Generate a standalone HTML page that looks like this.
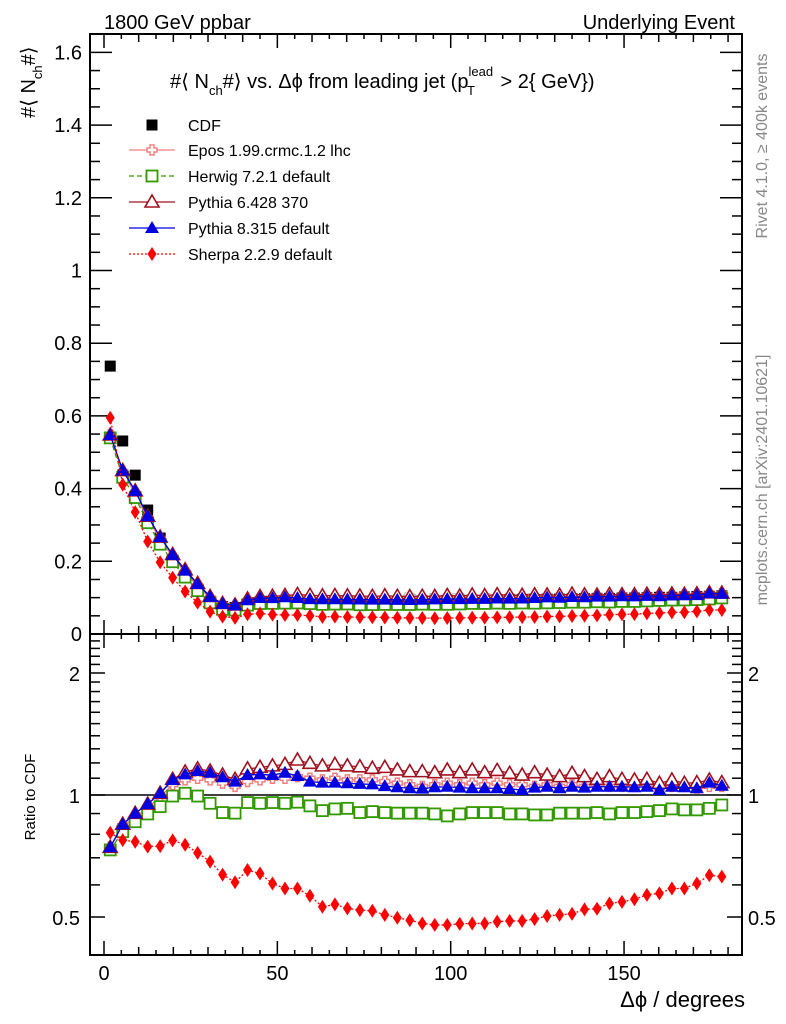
<!DOCTYPE html>
<html><head><meta charset="utf-8"><style>
html,body{margin:0;padding:0;background:#fff}
svg{display:block;font-family:"Liberation Sans",sans-serif}
</style></head><body>
<svg id="chart" width="786" height="1024" viewBox="0 0 786 1024" xmlns="http://www.w3.org/2000/svg">
<text x="104" y="29" font-size="20">1800 GeV ppbar</text>
<text x="735" y="29" font-size="20" text-anchor="end">Underlying Event</text>
<text x="170" y="88" font-size="20">#⟨ N<tspan font-size="13" dy="7">ch</tspan><tspan dy="-7">#⟩ vs. Δϕ from leading jet (p</tspan><tspan font-size="13" dy="-12">lead</tspan><tspan font-size="13" dx="-26" dy="19">T</tspan><tspan dx="20" dy="-7"> &gt; 2{ GeV})</tspan></text>
<text transform="translate(35,118) rotate(-90)" font-size="20">#⟨ N<tspan font-size="13" dy="7">ch</tspan><tspan dy="-7">#⟩</tspan></text>
<text transform="translate(35,797) rotate(-90)" font-size="15" text-anchor="middle">Ratio to CDF</text>
<text transform="translate(767,146) rotate(-90)" font-size="16" fill="#888" text-anchor="middle">Rivet 4.1.0, ≥ 400k events</text>
<text transform="translate(767,480) rotate(-90)" font-size="16" fill="#888" text-anchor="middle">mcplots.cern.ch [arXiv:2401.10621]</text>
<text x="745" y="1007" font-size="22" text-anchor="end">Δϕ / degrees</text>
<text x="470" y="603" font-size="15" fill="#bbb" text-anchor="middle">(CDF 2001 I564673)</text>
<g id="main"></g>
<g id="ratio"></g>
<g id="legend"></g>
</svg>
<script>
const binCenters = [1.8,5.4,9,12.6,16.2,19.8,23.4,27,30.6,34.2,37.8,41.4,45,48.6,52.2,55.8,59.4,63,66.6,70.2,73.8,77.4,81,84.6,88.2,91.8,95.4,99,102.6,106.2,109.8,113.4,117,120.6,124.2,127.8,131.4,135,138.6,142.2,145.8,149.4,153,156.6,160.2,163.8,167.4,171,174.6,178.2];
const cdfValues = [0.737,0.531,0.437,0.341,0.264,0.200,0.155,0.120,0.090,0.075,0.073,0.083,0.088,0.088,0.089,0.089,0.089,0.089,0.089,0.089,0.089,0.089,0.090,0.090,0.090,0.091,0.091,0.092,0.092,0.093,0.093,0.094,0.094,0.095,0.095,0.096,0.096,0.097,0.097,0.098,0.098,0.099,0.099,0.100,0.101,0.101,0.102,0.103,0.104,0.105];
const eposRatio = [0.743,0.84,0.88,0.93,0.99,1.06,1.09,1.10,1.09,1.07,1.05,1.08,1.09,1.10,1.10,1.11,1.10,1.09,1.10,1.09,1.09,1.09,1.08,1.07,1.06,1.05,1.06,1.07,1.06,1.07,1.06,1.07,1.06,1.06,1.05,1.06,1.05,1.06,1.05,1.06,1.05,1.05,1.05,1.06,1.04,1.05,1.05,1.04,1.05,1.05];
const herwigRatio = [0.732,0.812,0.859,0.898,0.936,0.994,1.010,0.994,0.954,0.905,0.902,0.958,0.954,0.958,0.954,0.960,0.940,0.915,0.924,0.927,0.905,0.910,0.905,0.902,0.902,0.902,0.898,0.888,0.898,0.905,0.905,0.905,0.898,0.898,0.893,0.893,0.902,0.902,0.902,0.905,0.898,0.905,0.905,0.910,0.915,0.924,0.919,0.919,0.927,0.945];
const pythia6Ratio = [0.743,0.847,0.901,0.950,1.010,1.093,1.140,1.160,1.146,1.120,1.093,1.160,1.170,1.180,1.190,1.220,1.197,1.180,1.190,1.180,1.174,1.164,1.170,1.153,1.142,1.142,1.135,1.153,1.135,1.153,1.135,1.150,1.131,1.120,1.135,1.120,1.110,1.131,1.110,1.093,1.110,1.093,1.089,1.093,1.069,1.089,1.069,1.073,1.089,1.073];
const pythia8Ratio = [0.743,0.847,0.901,0.950,1.010,1.089,1.124,1.146,1.135,1.106,1.079,1.120,1.124,1.120,1.135,1.114,1.079,1.073,1.073,1.069,1.065,1.062,1.052,1.045,1.039,1.037,1.045,1.048,1.043,1.039,1.039,1.039,1.035,1.029,1.043,1.048,1.039,1.048,1.043,1.048,1.048,1.048,1.045,1.048,1.029,1.048,1.045,1.039,1.073,1.054];
const sherpaRatio = [0.807,0.774,0.767,0.746,0.748,0.773,0.754,0.720,0.685,0.636,0.609,0.653,0.640,0.605,0.588,0.588,0.564,0.530,0.537,0.525,0.520,0.518,0.506,0.498,0.491,0.482,0.478,0.478,0.481,0.482,0.482,0.487,0.489,0.489,0.494,0.503,0.506,0.509,0.522,0.524,0.540,0.545,0.553,0.567,0.572,0.588,0.588,0.605,0.634,0.629];
const mainYTicks = [0,0.2,0.4,0.6,0.8,1,1.2,1.4,1.6];
const mainYTickLabels = ["0","0.2","0.4","0.6","0.8","1","1.2","1.4","1.6"];
const ratioYTicks = [0.5,1,2];
const ratioYTickLabels = ["0.5","1","2"];
const xTicks = [0,50,100,150];
const xTickLabels = ["0","50","100","150"];

const NS="http://www.w3.org/2000/svg";
const L=90,R=742,MT=34,MB=634,RT=634,RB=955;
const xs=v=>104+v*3.467;
const ys=v=>634-v*363.5;
const yr=v=>795-122*Math.log2(v);
function mk(tag,attrs,parent){const e=document.createElementNS(NS,tag);for(const k in attrs)e.setAttribute(k,attrs[k]);parent.appendChild(e);return e;}
const main=document.getElementById('main'),ratio=document.getElementById('ratio'),legend=document.getElementById('legend');

let f=mk('rect',{x:L,y:MT,width:R-L,height:MB-MT,fill:'none',stroke:'#000','stroke-width':2},main);


f=mk('rect',{x:L,y:RT,width:R-L,height:RB-RT,fill:'none',stroke:'#000','stroke-width':2},ratio);



for(let v=0;v<=180;v+=5){
  const x=xs(v), h=v%50===0?14:(v%10===0?8:5);
  for(const [yb,dir] of [[MB,-1],[MT,1],[RB,-1],[RT,1]]){
    const t=mk('line',{x1:x,x2:x,y1:yb,y2:yb+dir*h,stroke:'#000','stroke-width':1.5},main);
    
    
  }
}
xTicks.forEach((v,i)=>{
  const t=mk('text',{x:xs(v),y:980,'font-size':20,'text-anchor':'middle'},ratio);
  t.textContent=xTickLabels[i];
  
  
});
for(let v=0;v<=1.65;v+=0.05){
  const maj=Math.abs(v/0.2-Math.round(v/0.2))<1e-6, y=ys(v), h=maj?22:10;
  if(y<MT+1) continue;
  const a=mk('line',{x1:L,x2:L+h,y1:y,y2:y,stroke:'#000','stroke-width':1.5},main);
  
  
  const b=mk('line',{x1:R,x2:R-h,y1:y,y2:y,stroke:'#000','stroke-width':1.5},main);
  
  
}
mainYTicks.forEach((v,i)=>{
  const t=mk('text',{x:82,y:ys(v)+7,'font-size':20,'text-anchor':'end'},main);
  t.textContent=mainYTickLabels[i];
  
  
});
for(let k=4;k<=24;k++){
  const v=k/10;
  const y=yr(v); if(y<RT+2||y>RB-2) continue;
  const maj=(k===5||k===10||k===20), h=maj?15:10;
  const a=mk('line',{x1:L,x2:L+h,y1:y,y2:y,stroke:'#000','stroke-width':1.5},ratio);
  
  
  const b=mk('line',{x1:R,x2:R-h,y1:y,y2:y,stroke:'#000','stroke-width':1.5},ratio);
  
  
}
ratioYTicks.forEach((v,i)=>{
  const t=mk('text',{x:80,y:yr(v)+8,'font-size':20,'text-anchor':'end'},ratio);
  t.textContent=ratioYTickLabels[i];
  
  
  const t2=mk('text',{x:748,y:yr(v)+8,'font-size':20},ratio);
  t2.textContent=ratioYTickLabels[i];
  
  
});
const one=mk('line',{x1:L,x2:R,y1:yr(1),y2:yr(1),stroke:'#000','stroke-width':1.5},ratio);



function marker(type,color,x,y,parent){
  let e;
  if(type==='sq') e=mk('rect',{x:x-5.5,y:y-5.5,width:11,height:11,fill:'#000'},parent);
  else if(type==='osq') e=mk('rect',{x:x-5.5,y:y-5.5,width:11,height:11,fill:'#fff',stroke:color,'stroke-width':1.8},parent);
  else if(type==='cross') e=mk('path',{d:`M${x-2},${y-5}h4v3h3v4h-3v3h-4v-3h-3v-4h3z`,fill:'#fff',stroke:color,'stroke-width':1.5},parent);
  else if(type==='otri') e=mk('path',{d:`M${x},${y-7}L${x+7},${y+5}L${x-7},${y+5}Z`,fill:'#fff',stroke:color,'stroke-width':1.6},parent);
  else if(type==='tri') e=mk('path',{d:`M${x},${y-7}L${x+7},${y+5}L${x-7},${y+5}Z`,fill:color},parent);
  else e=mk('path',{d:`M${x},${y-7}L${x+4.5},${y}L${x},${y+7}L${x-4.5},${y}Z`,fill:color},parent);
  return e;
}
const series=[
  {name:'epos',ratio:eposRatio,color:'#f08080',type:'cross',dash:'',label:'Epos 1.99.crmc.1.2 lhc'},
  {name:'herwig',ratio:herwigRatio,color:'#339900',type:'osq',dash:'5,3',label:'Herwig 7.2.1 default'},
  {name:'pythia6',ratio:pythia6Ratio,color:'#a0101e',type:'otri',dash:'',label:'Pythia 6.428 370'},
  {name:'pythia8',ratio:pythia8Ratio,color:'#0000e0',type:'tri',dash:'',label:'Pythia 8.315 default'},
  {name:'sherpa',ratio:sherpaRatio,color:'#ff0000',type:'dia',dash:'2,2',label:'Sherpa 2.2.9 default'}
];
cdfValues.forEach((v,i)=>{
  const m=marker('sq','#000',xs(binCenters[i]),ys(v),main);
  
  
});
series.forEach(s=>{
  const mv=s.ratio.map((r,i)=>r*cdfValues[i]);
  const pm=mk('polyline',{points:mv.map((v,i)=>xs(binCenters[i])+','+ys(v)).join(' '),fill:'none',stroke:s.color,'stroke-width':1.3,'stroke-dasharray':s.dash},main);
  
  
  mv.forEach((v,i)=>{
    const m=marker(s.type,s.color,xs(binCenters[i]),ys(v),main);
    
    
  });
  const pr=mk('polyline',{points:s.ratio.map((v,i)=>xs(binCenters[i])+','+yr(v)).join(' '),fill:'none',stroke:s.color,'stroke-width':1.3,'stroke-dasharray':s.dash},ratio);
  
  
  s.ratio.forEach((v,i)=>{
    const m=marker(s.type,s.color,xs(binCenters[i]),yr(v),ratio);
    
    
  });
});
const lg0=mk('g',{},legend);


marker('sq','#000',152,125,lg0);
let lt=mk('text',{x:188,y:131,'font-size':16},lg0); lt.textContent='CDF';
series.forEach((s,i)=>{
  const y=150+i*26;
  const g=mk('g',{},legend);
  
  
  mk('line',{x1:129,x2:175,y1:y,y2:y,stroke:s.color,'stroke-width':1.3,'stroke-dasharray':s.dash},g);
  marker(s.type,s.color,152,y,g);
  const t=mk('text',{x:188,y:y+6,'font-size':16},g); t.textContent=s.label;
});
</script>
</body></html>
